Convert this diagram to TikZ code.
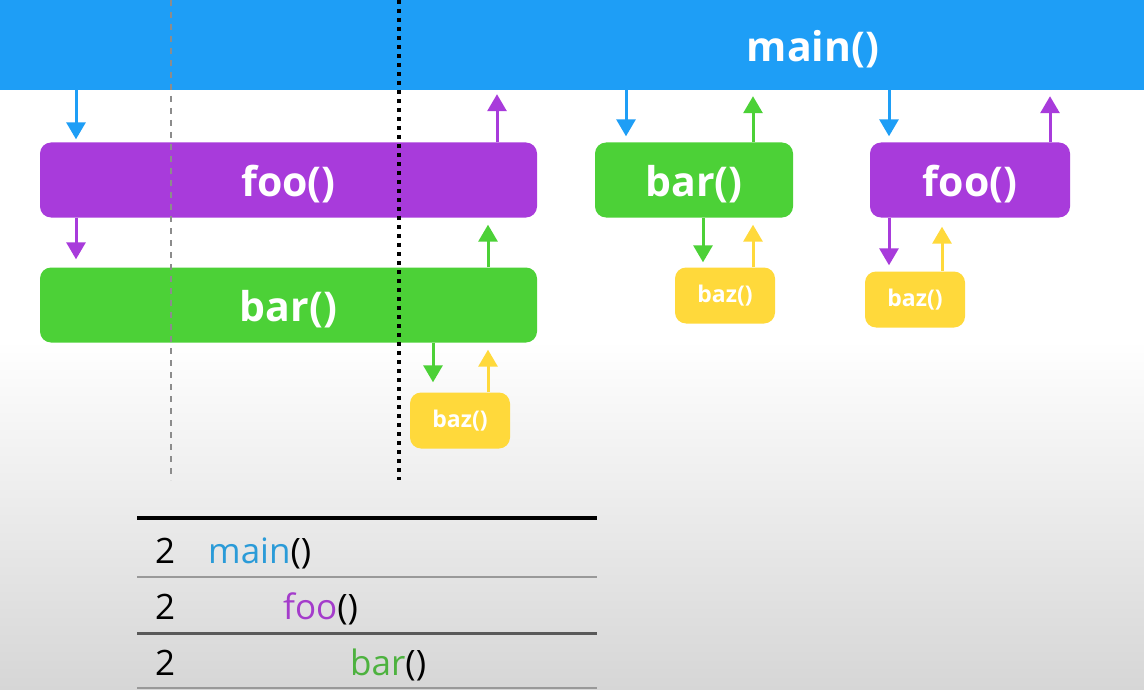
\documentclass[tikz,border=0pt]{standalone}
\usepackage{fontspec}
\setmainfont{Open Sans}
\usetikzlibrary{arrows.meta}

\definecolor{mainblue}{HTML}{1E9EF6}
\definecolor{foopurple}{HTML}{A83BDB}
\definecolor{bargreen}{HTML}{4CD137}
\definecolor{bazyellow}{HTML}{FFD93B}
\definecolor{txtblue}{HTML}{2A9BD8}
\definecolor{txtpurple}{HTML}{A43CCB}
\definecolor{txtgreen}{HTML}{4DB23F}
\definecolor{bggray}{HTML}{D6D6D6}

% lower a label a little without changing its box
\newcommand{\lowered}[1]{\raisebox{-4pt}[\height][\depth]{#1}}

\tikzset{
  fnbox/.style={rounded corners=11pt, text=white, inner sep=0pt, minimum height=75pt},
  bigfont/.style={font=\fontsize{41}{41}\selectfont\bfseries},
  smallbox/.style={fnbox, fill=bazyellow, minimum width=100pt, minimum height=56pt,
    font=\fontsize{23}{23}\selectfont\bfseries},
  callarrow/.style={line width=3pt, -{Triangle[width=19pt,length=17pt]}},
  rowtext/.style={anchor=base west, inner sep=0pt, font=\fontsize{35}{35}\selectfont},
}

\begin{document}
\begin{tikzpicture}[x=1pt, y=-1pt]
\useasboundingbox (0,0) rectangle (1144,690);

% background fading to grey at the bottom
\fill[white] (0,0) rectangle (1144,690);
\shade[top color=white, bottom color=bggray] (0,340) rectangle (1144,690);

% main() bar
\node[fill=mainblue, minimum width=1144pt, minimum height=90pt, inner sep=0pt] (main) at (572,45) {};
\node[text=white, bigfont] (mainlbl) at (813,49) {main()};

% first call chain
\node[fnbox, bigfont, fill=foopurple, minimum width=497pt] (foo1) at (288.5,180) {\lowered{foo()}};
\node[fnbox, bigfont, fill=bargreen, minimum width=497pt] (bar1) at (288.5,305) {\lowered{bar()}};
\node[smallbox] (baz1) at (460,420.5) {baz()};

% second call chain
\node[fnbox, bigfont, fill=bargreen, minimum width=198pt] (bar2) at (694,180) {\lowered{bar()}};
\node[smallbox] (baz2) at (725,295.5) {baz()};

% third call chain
\node[fnbox, bigfont, fill=foopurple, minimum width=200pt] (foo2) at (970,180) {\lowered{foo()}};
\node[smallbox] (baz3) at (915,299.5) {baz()};

% x positions of the call / return arrows
\coordinate (xa) at (76,0);
\coordinate (xb) at (497,0);
\coordinate (xc) at (488,0);
\coordinate (xd) at (433,0);
\coordinate (xe) at (626,0);
\coordinate (xf) at (753,0);
\coordinate (xg) at (703,0);
\coordinate (xh) at (889,0);
\coordinate (xi) at (1050,0);
\coordinate (xj) at (942,0);

% calls (down) and returns (up)
\draw[callarrow, mainblue] (main.south -| xa) -- ([yshift=3pt]foo1.north -| xa);
\draw[callarrow, foopurple] (foo1.north -| xb) -- ([yshift=-4pt]main.south -| xb);
\draw[callarrow, foopurple] (foo1.south -| xa) -- ([yshift=8pt]bar1.north -| xa);
\draw[callarrow, bargreen] (bar1.north -| xc) -- ([yshift=-7pt]foo1.south -| xc);
\draw[callarrow, bargreen] (bar1.south -| xd) -- ([yshift=10pt]baz1.north -| xd);
\draw[callarrow, bazyellow] (baz1.north -| xc) -- ([yshift=-7pt]bar1.south -| xc);

\draw[callarrow, mainblue] (main.south -| xe) -- ([yshift=6pt]bar2.north -| xe);
\draw[callarrow, bargreen] (bar2.north -| xf) -- ([yshift=-6pt]main.south -| xf);
\draw[callarrow, bargreen] (bar2.south -| xg) -- ([yshift=5pt]baz2.north -| xg);
\draw[callarrow, bazyellow] (baz2.north -| xf) -- ([yshift=-7pt]bar2.south -| xf);

\draw[callarrow, mainblue] (main.south -| xh) -- ([yshift=6pt]foo2.north -| xh);
\draw[callarrow, foopurple] (foo2.north -| xi) -- ([yshift=-6pt]main.south -| xi);
\draw[callarrow, foopurple] (foo2.south -| xh) -- ([yshift=6pt]baz3.north -| xh);
\draw[callarrow, bazyellow] (baz3.north -| xj) -- ([yshift=-9pt]foo2.south -| xj);

% time markers
\draw[black!45, line width=2.5pt, dash pattern=on 6pt off 6pt] (171,0) -- (171,480);
\draw[black, line width=4pt, dash pattern=on 4pt off 5pt] (399,0) -- (399,480);

% call stack table
\draw[black, line width=4pt] (137,518) -- (597,518);
\draw[gray!80, line width=2pt] (137,577) -- (597,577);
\draw[black!65, line width=3pt] (137,633) -- (597,633);
\draw[gray!80, line width=2pt] (137,688) -- (597,688);

\node[rowtext] (n1) at (155,563) {2};
\node[rowtext] (f1) at (208,563) {\textcolor{txtblue}{main}()};
\node[rowtext] (n2) at (155,619) {2};
\node[rowtext] (f2) at (283,619) {\textcolor{txtpurple}{foo}()};
\node[rowtext] (n3) at (155,675) {2};
\node[rowtext] (f3) at (350,675) {\textcolor{txtgreen}{bar}()};
\end{tikzpicture}
\end{document}
